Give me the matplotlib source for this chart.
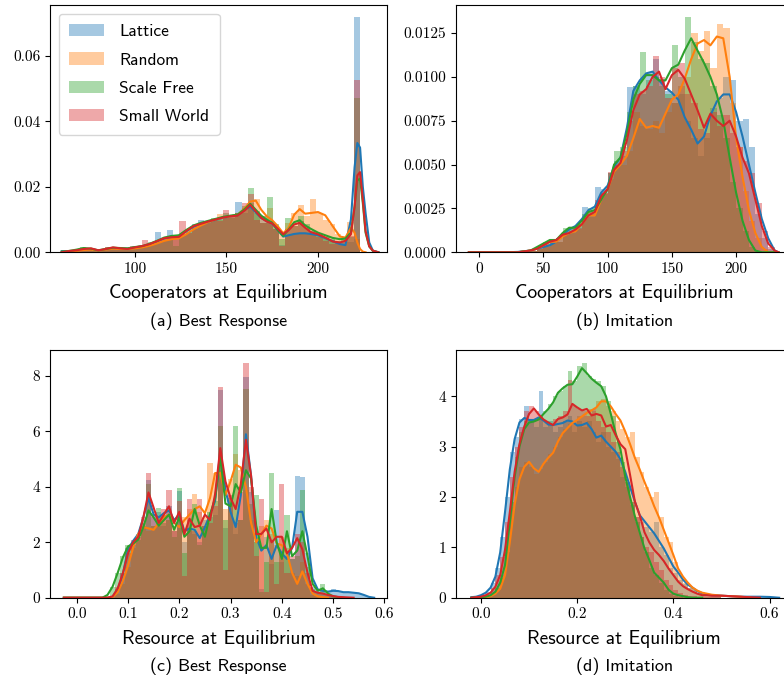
import numpy as np
import matplotlib.pyplot as plt

plt.rcParams['axes.unicode_minus'] = False

nan = np.nan
names = ['Lattice', 'Random', 'Scale Free', 'Small World']
colors = ['#1f77b4', '#ff7f0e', '#2ca02c', '#d62728']

# ---- (a) cooperators, best response ----
a_bin_lo, a_bin_w = 59.7, 3.4
a_lat_hist = [0.0006, 0.0003, 0.0005, 0.0010, 0.0008, 0.0004, 0.0008, 0.0013, 0.0012, 0.0010,
              0.0012, 0.0016, 0.0018, 0.0022, 0.0028, 0.0063, 0.0035, 0.0068, 0.0048, 0.0055,
              0.0062, 0.0085, 0.0100, 0.0088, 0.0098, 0.0105, 0.0112, 0.0110, 0.0155, 0.0120,
              0.0140, 0.0125, 0.0110, 0.0095, 0.0070, 0.0022, 0.0050, 0.0055, 0.0060, 0.0058,
              0.0060, 0.0052, 0.0045, 0.0038, 0.0030, 0.0025, 0.0030, 0.0720, 0.0, 0.0]
a_rnd_hist = [0.0, 0.0002, 0.0004, 0.0008, 0.0006, 0.0005, 0.0008, 0.0010, 0.0012, 0.0010,
              0.0012, 0.0014, 0.0016, 0.0020, 0.0025, 0.0030, 0.0035, 0.0040, 0.0045, 0.0050,
              0.0060, 0.0070, 0.0085, 0.0095, 0.0100, 0.0118, 0.0110, 0.0115, 0.0120, 0.0135,
              0.0150, 0.0163, 0.0110, 0.0135, 0.0080, 0.0055, 0.0090, 0.0120, 0.0145, 0.0110,
              0.0163, 0.0120, 0.0100, 0.0085, 0.0055, 0.0040, 0.0094, 0.0040, 0.0, 0.0]
a_sf_hist = [0.0003, 0.0003, 0.0008, 0.0015, 0.0010, 0.0004, 0.0008, 0.0015, 0.0012, 0.0015,
             0.0012, 0.0016, 0.0018, 0.0022, 0.0030, 0.0028, 0.0040, 0.0045, 0.0020, 0.0055,
             0.0070, 0.0075, 0.0090, 0.0095, 0.0105, 0.0098, 0.0120, 0.0105, 0.0120, 0.0140,
             0.0195, 0.0120, 0.0090, 0.0168, 0.0085, 0.0040, 0.0105, 0.0080, 0.0110, 0.0085,
             0.0065, 0.0055, 0.0048, 0.0040, 0.0035, 0.0045, 0.0046, 0.0473, 0.0, 0.0]
a_sw_hist = [0.0002, 0.0004, 0.0006, 0.0012, 0.0008, 0.0005, 0.0010, 0.0017, 0.0014, 0.0012,
             0.0014, 0.0018, 0.0020, 0.0037, 0.0025, 0.0030, 0.0045, 0.0050, 0.0045, 0.0095,
             0.0060, 0.0080, 0.0085, 0.0090, 0.0100, 0.0095, 0.0130, 0.0110, 0.0120, 0.0150,
             0.0178, 0.0100, 0.0090, 0.0095, 0.0070, 0.0020, 0.0070, 0.0080, 0.0095, 0.0075,
             0.0060, 0.0048, 0.0035, 0.0025, 0.0030, 0.0035, 0.0050, 0.0528, 0.0, 0.0]
a_kde_x = [60, 64, 68, 72, 76, 80, 84, 88, 92, 96,
           100, 104, 108, 112, 116, 120, 124, 128, 132, 136,
           140, 144, 148, 152, 156, 160, 163, 166, 169, 172,
           175, 178, 181, 184, 187, 190, 193, 196, 200, 204,
           208, 212, 215, 218, 220, 221.5, 223, 224.5, 226, 228,
           230, 233]
a_lat_kde = [0.0003, 0.0003, 0.0005, 0.0009, 0.0010, 0.0005, 0.0009, 0.0013, 0.0011, 0.0011,
             0.0015, 0.0018, 0.0024, 0.0033, 0.0042, 0.0048, 0.0050, 0.0064, 0.0078, 0.0086,
             0.0092, 0.0099, 0.0105, 0.0110, 0.0113, 0.0130, 0.0140, 0.0122, 0.0105, 0.0095,
             0.0088, 0.0068, 0.0048, 0.0052, 0.0056, 0.0058, 0.0058, 0.0056, 0.0052, 0.0043,
             0.0034, 0.0025, 0.0022, 0.0100, 0.0260, 0.0334, 0.0320, 0.0200, 0.0120, 0.0030,
             0.0005, 0.0]
a_rnd_kde = [0.0, 0.0002, 0.0004, 0.0007, 0.0008, 0.0005, 0.0008, 0.0011, 0.0010, 0.0010,
             0.0012, 0.0015, 0.0020, 0.0027, 0.0035, 0.0040, 0.0043, 0.0055, 0.0070, 0.0082,
             0.0092, 0.0100, 0.0106, 0.0110, 0.0114, 0.0135, 0.0155, 0.0158, 0.0130, 0.0110,
             0.0098, 0.0080, 0.0058, 0.0075, 0.0115, 0.0132, 0.0118, 0.0120, 0.0123, 0.0113,
             0.0080, 0.0048, 0.0045, 0.0075, 0.0060, 0.0030, 0.0010, 0.0002, 0.0, nan,
             nan, nan]
a_sf_kde = [0.0002, 0.0004, 0.0008, 0.0013, 0.0011, 0.0006, 0.0010, 0.0014, 0.0013, 0.0012,
            0.0016, 0.0019, 0.0026, 0.0035, 0.0045, 0.0050, 0.0052, 0.0068, 0.0082, 0.0090,
            0.0096, 0.0102, 0.0108, 0.0112, 0.0115, 0.0132, 0.0148, 0.0130, 0.0112, 0.0100,
            0.0090, 0.0068, 0.0050, 0.0070, 0.0092, 0.0098, 0.0082, 0.0072, 0.0060, 0.0052,
            0.0044, 0.0040, 0.0042, 0.0060, 0.0140, 0.0220, 0.0225, 0.0150, 0.0060, 0.0018,
            0.0004, 0.0]
a_sw_kde = [0.0, 0.0004, 0.0006, 0.0010, 0.0012, 0.0006, 0.0010, 0.0015, 0.0012, 0.0010,
            0.0015, 0.0019, 0.0025, 0.0034, 0.0043, 0.0046, 0.0047, 0.0065, 0.0080, 0.0087,
            0.0094, 0.0100, 0.0106, 0.0110, 0.0112, 0.0128, 0.0145, 0.0125, 0.0105, 0.0094,
            0.0088, 0.0072, 0.0055, 0.0068, 0.0085, 0.0090, 0.0075, 0.0062, 0.0055, 0.0045,
            0.0033, 0.0030, 0.0035, 0.0055, 0.0140, 0.0235, 0.0245, 0.0160, 0.0065, 0.0018,
            0.0005, 0.0]

# ---- (b) cooperators, imitation ----
b_bin_lo, b_bin_w = 30, 5
b_lat_hist = [0.0, 0.0, 0.0001, 0.0002, 0.0003, 0.0006, 0.0006, 0.0012, 0.0014, 0.0015,
              0.0026, 0.0022, 0.0037, 0.0036, 0.0045, 0.0052, 0.0055, 0.0094, 0.0095, 0.0090,
              0.0102, 0.0110, 0.0098, 0.0092, 0.0085, 0.0090, 0.0075, 0.0065, 0.0055, 0.0065,
              0.0082, 0.0088, 0.0100, 0.0098, 0.0075, 0.0076, 0.0060, 0.0022, 0.0008, 0.0002]
b_rnd_hist = [0.0, 0.0, 0.0001, 0.0002, 0.0004, 0.0005, 0.0006, 0.0010, 0.0011, 0.0013,
              0.0020, 0.0020, 0.0028, 0.0034, 0.0042, 0.0050, 0.0050, 0.0058, 0.0080, 0.0072,
              0.0070, 0.0075, 0.0068, 0.0080, 0.0085, 0.0095, 0.0100, 0.0125, 0.0115, 0.0126,
              0.0105, 0.0130, 0.0128, 0.0085, 0.0060, 0.0035, 0.0018, 0.0008, 0.0002, 0.0]
b_sf_hist = [0.0, 0.0, 0.0001, 0.0003, 0.0006, 0.0007, 0.0008, 0.0014, 0.0014, 0.0016,
             0.0022, 0.0025, 0.0028, 0.0033, 0.0045, 0.0058, 0.0060, 0.0080, 0.0095, 0.0114,
             0.0098, 0.0100, 0.0095, 0.0090, 0.0118, 0.0100, 0.0134, 0.0120, 0.0110, 0.0108,
             0.0095, 0.0078, 0.0065, 0.0040, 0.0025, 0.0012, 0.0003, 0.0001, 0.0, 0.0]
b_sw_hist = [0.0, 0.0, 0.0001, 0.0003, 0.0005, 0.0006, 0.0008, 0.0011, 0.0012, 0.0014,
             0.0020, 0.0023, 0.0030, 0.0034, 0.0046, 0.0050, 0.0058, 0.0075, 0.0090, 0.0092,
             0.0095, 0.0112, 0.0100, 0.0088, 0.0105, 0.0108, 0.0090, 0.0085, 0.0070, 0.0068,
             0.0080, 0.0072, 0.0078, 0.0068, 0.0060, 0.0052, 0.0045, 0.0028, 0.0012, 0.0003]
b_kde_x = [-8, 0, 10, 20, 30, 40, 45, 50, 55, 60,
           65, 70, 75, 80, 85, 90, 95, 100, 105, 110,
           115, 120, 125, 130, 135, 140, 145, 150, 155, 160,
           165, 170, 175, 180, 185, 190, 195, 200, 205, 210,
           215, 220, 225, 230, 233]
b_lat_kde = [0.0, 0.0, 0.0, 0.0, 0.00002, 0.0001, 0.0002, 0.0003, 0.0004, 0.0006,
             0.0010, 0.0013, 0.0015, 0.0019, 0.0024, 0.0026, 0.0034, 0.0038, 0.0049, 0.0054,
             0.0071, 0.0092, 0.0098, 0.0102, 0.0103, 0.0098, 0.0094, 0.0091, 0.0087, 0.0077,
             0.0070, 0.0062, 0.0066, 0.0078, 0.0086, 0.0090, 0.0090, 0.0080, 0.0066, 0.0050,
             0.0034, 0.0019, 0.0008, 0.0001, 0.0]
b_rnd_kde = [0.0, 0.0, 0.0, 0.0, 0.0, 0.0001, 0.0002, 0.0004, 0.0006, 0.0006,
             0.0009, 0.0011, 0.0012, 0.0016, 0.0021, 0.0021, 0.0030, 0.0036, 0.0046, 0.0050,
             0.0055, 0.0065, 0.0076, 0.0071, 0.0072, 0.0071, 0.0079, 0.0087, 0.0090, 0.0099,
             0.0110, 0.0119, 0.0121, 0.0118, 0.0123, 0.0122, 0.0100, 0.0065, 0.0043, 0.0024,
             0.0011, 0.0003, 0.0, 0.0, 0.0]
b_sf_kde = [0.0, 0.0, 0.0, 0.0, 0.0, 0.0001, 0.0003, 0.0005, 0.0007, 0.0007,
            0.0011, 0.0014, 0.0014, 0.0018, 0.0023, 0.0024, 0.0030, 0.0036, 0.0050, 0.0054,
            0.0068, 0.0087, 0.0096, 0.0101, 0.0101, 0.0098, 0.0098, 0.0105, 0.0107, 0.0115,
            0.0122, 0.0115, 0.0108, 0.0100, 0.0090, 0.0075, 0.0054, 0.0034, 0.0018, 0.0007,
            0.0001, 0.0, 0.0, 0.0, 0.0]
b_sw_kde = [0.0, 0.0, 0.0, 0.0, 0.0, 0.0001, 0.0002, 0.0004, 0.0006, 0.0007,
            0.0010, 0.0011, 0.0013, 0.0016, 0.0021, 0.0023, 0.0032, 0.0036, 0.0047, 0.0051,
            0.0064, 0.0081, 0.0090, 0.0093, 0.0100, 0.0103, 0.0093, 0.0101, 0.0104, 0.0099,
            0.0090, 0.0081, 0.0071, 0.0079, 0.0075, 0.0072, 0.0075, 0.0066, 0.0054, 0.0045,
            0.0030, 0.0015, 0.0005, 0.0001, 0.0]

# ---- (c) resource, best response ----
c_bin_lo, c_bin_w = 0.065, 0.01
c_lat_hist = [0.05, 0.3, 0.9, 1.8, 2.0, 2.2, 2.6, 4.25, 2.9, 3.1,
              2.6, 3.3, 2.4, 3.85, 2.0, 2.8, 2.3, 2.0, 2.8, 2.9,
              3.0, 7.5, 2.5, 3.4, 2.3, 2.8, 7.95, 3.8, 2.0, 0.3,
              2.2, 1.2, 3.15, 1.3, 1.5, 1.4, 4.4, 4.35, 1.6, 0.4,
              0.3, 0.25, 0.2, 0.3, 0.25, 0.2, 0.2, 0.2, 0.18, 0.1,
              0.03]
c_rnd_hist = [0.0, 0.15, 0.5, 1.1, 1.8, 2.3, 2.5, 2.4, 2.6, 2.9,
              3.0, 2.8, 2.6, 2.5, 2.9, 3.2, 3.75, 3.1, 2.9, 4.85,
              4.5, 4.6, 3.2, 4.3, 5.2, 4.6, 3.9, 2.8, 2.0, 2.6,
              2.8, 2.3, 1.9, 2.2, 1.8, 0.9, 0.8, 1.3, 0.5, 0.1,
              0.05, 0.02, 0.0, 0.0, 0.0, 0.0, 0.0, 0.0, 0.0, 0.0,
              0.0]
c_sf_hist = [0.4, 0.9, 1.5, 1.9, 1.9, 2.1, 2.7, 4.1, 2.6, 3.25,
             2.7, 2.8, 2.2, 3.95, 1.6, 2.5, 3.4, 1.9, 2.6, 3.1,
             3.5, 6.2, 2.8, 3.6, 6.2, 2.8, 7.55, 3.4, 3.7, 0.2,
             1.3, 4.5, 1.3, 1.6, 3.0, 1.4, 1.5, 3.9, 1.1, 0.3,
             0.2, 0.5, 0.1, 0.05, 0.0, 0.0, 0.0, 0.0, 0.0, 0.0,
             0.0]
c_sw_hist = [0.05, 0.4, 0.9, 1.6, 2.1, 2.2, 2.9, 4.5, 3.0, 2.6,
             3.2, 3.9, 2.4, 3.5, 0.8, 3.55, 2.4, 3.55, 2.6, 2.7,
             3.3, 7.6, 1.0, 3.7, 2.7, 3.8, 8.46, 4.0, 1.5, 3.55,
             0.2, 2.1, 0.5, 4.1, 0.9, 1.5, 2.3, 2.0, 0.9, 0.2,
             0.2, 0.15, 0.1, 0.05, 0.0, 0.0, 0.0, 0.0, 0.0, 0.0,
             0.0]
c_kde_x = [-0.025, 0.05, 0.06, 0.07, 0.08, 0.09, 0.10, 0.11, 0.12, 0.13,
           0.14, 0.15, 0.16, 0.17, 0.18, 0.19, 0.20, 0.21, 0.22, 0.23,
           0.24, 0.25, 0.26, 0.27, 0.28, 0.29, 0.30, 0.31, 0.32, 0.33,
           0.34, 0.35, 0.36, 0.37, 0.38, 0.39, 0.40, 0.41, 0.42, 0.43,
           0.44, 0.45, 0.46, 0.47, 0.48, 0.49, 0.50, 0.51, 0.52, 0.53,
           0.54, 0.55, 0.56, 0.57, 0.58]
c_lat_kde = [0.0, 0.0, 0.0, 0.03, 0.3, 0.85, 1.75, 2.05, 2.3, 2.9,
             3.6, 3.0, 2.9, 3.05, 3.15, 2.8, 3.0, 2.4, 2.5, 2.45,
             2.15, 2.55, 3.0, 3.5, 5.3, 3.9, 3.1, 2.55, 3.7, 5.9,
             4.4, 2.2, 1.7, 1.9, 1.4, 1.9, 1.6, 1.4, 1.8, 3.1,
             3.1, 2.2, 0.7, 0.3, 0.25, 0.22, 0.25, 0.24, 0.2, 0.2,
             0.18, 0.16, 0.1, 0.03, 0.0]
c_rnd_kde = [0.0, 0.0, 0.0, 0.02, 0.2, 0.6, 1.15, 1.8, 2.3, 2.55,
             2.5, 2.45, 2.7, 2.9, 3.0, 2.7, 2.55, 2.8, 3.0, 3.2,
             3.3, 3.05, 3.6, 4.5, 4.5, 3.7, 4.2, 4.8, 4.7, 4.0,
             2.7, 2.0, 2.3, 2.6, 2.5, 1.95, 1.9, 1.6, 0.9, 0.5,
             0.95, 0.5, 0.15, 0.05, 0.02, 0.0, nan, nan, nan, nan,
             nan, nan, nan, nan, nan]
c_sf_kde = [0.0, 0.0, 0.1, 0.4, 0.9, 1.45, 1.85, 1.95, 2.1, 2.55,
            3.15, 2.9, 2.6, 2.8, 3.0, 2.45, 2.9, 2.2, 2.4, 3.2,
            2.6, 2.2, 3.0, 3.6, 5.1, 3.4, 3.3, 4.1, 3.8, 4.6,
            4.3, 2.6, 1.8, 1.8, 3.2, 2.0, 1.4, 2.4, 1.5, 1.7,
            2.4, 1.5, 0.5, 0.25, 0.34, 0.15, 0.05, 0.02, 0.0, nan,
            nan, nan, nan, nan, nan]
c_sw_kde = [0.0, 0.0, 0.0, 0.05, 0.34, 0.88, 1.6, 2.0, 2.2, 2.9,
            3.8, 3.25, 2.7, 3.0, 3.3, 2.7, 3.1, 2.3, 2.85, 2.55,
            2.6, 3.0, 2.8, 3.75, 5.4, 4.2, 3.6, 3.2, 4.1, 5.7,
            4.4, 2.3, 2.3, 2.5, 2.0, 2.2, 2.2, 1.6, 1.8, 2.15,
            1.75, 0.9, 0.25, 0.18, 0.15, 0.1, 0.06, 0.03, 0.02, 0.01,
            0.0, nan, nan, nan, nan]

# ---- (d) resource, imitation ----
d_bin_lo, d_bin_w = 0.0, 0.01
d_lat_hist = [0.05, 0.12, 0.3, 0.6, 1.2, 2.0, 2.9, 3.2, 3.55, 3.8,
              3.5, 3.4, 4.1, 3.4, 3.5, 3.3, 3.4, 3.5, 3.6, 3.3,
              3.5, 3.4, 3.5, 3.3, 3.1, 3.3, 3.0, 2.9, 2.75, 2.4,
              2.2, 1.85, 1.6, 1.5, 1.4, 1.3, 1.5, 1.0, 0.85, 0.6,
              0.5, 0.35, 0.28, 0.2, 0.15, 0.1, 0.07, 0.05, 0.04, 0.03]
d_rnd_hist = [0.0, 0.02, 0.08, 0.2, 0.45, 1.0, 1.8, 2.2, 2.6, 2.7,
              2.6, 2.45, 2.55, 2.7, 2.85, 3.0, 3.2, 3.35, 3.45, 3.5,
              3.6, 3.6, 3.75, 3.7, 3.9, 3.95, 3.8, 3.7, 3.5, 3.35,
              3.2, 3.3, 2.8, 2.5, 2.2, 2.0, 2.1, 1.6, 1.2, 1.1,
              0.7, 0.45, 0.3, 0.2, 0.15, 0.1, 0.08, 0.06, 0.04, 0.03]
d_sf_hist = [0.0, 0.02, 0.08, 0.2, 0.4, 0.9, 1.9, 2.8, 3.3, 3.5,
             3.5, 3.55, 3.6, 3.7, 3.85, 4.0, 4.1, 4.2, 4.5, 4.3,
             4.6, 4.66, 4.4, 4.35, 4.3, 4.2, 3.9, 3.6, 3.1, 2.7,
             2.3, 1.9, 1.5, 1.2, 0.9, 0.6, 0.45, 0.3, 0.15, 0.08,
             0.04, 0.02, 0.0, 0.0, 0.0, 0.0, 0.0, 0.0, 0.0, 0.0]
d_sw_hist = [0.01, 0.06, 0.2, 0.45, 0.8, 1.5, 2.4, 3.0, 3.4, 3.7,
             3.8, 3.7, 3.55, 3.5, 3.45, 3.55, 3.6, 3.7, 4.33, 3.8,
             3.75, 3.7, 3.6, 3.75, 3.5, 3.4, 3.3, 3.1, 2.9, 2.6,
             2.3, 1.9, 1.6, 1.2, 1.0, 0.9, 0.7, 0.55, 0.35, 0.25,
             0.15, 0.1, 0.06, 0.04, 0.03, 0.02, 0.02, 0.01, 0.01, 0.01]
d_kde_x = [-0.02, -0.01, 0.00, 0.01, 0.02, 0.03, 0.04, 0.05, 0.06, 0.07,
           0.08, 0.09, 0.10, 0.11, 0.12, 0.13, 0.14, 0.15, 0.16, 0.17,
           0.18, 0.19, 0.20, 0.21, 0.22, 0.23, 0.24, 0.25, 0.26, 0.27,
           0.28, 0.29, 0.30, 0.31, 0.32, 0.33, 0.34, 0.35, 0.36, 0.37,
           0.38, 0.39, 0.40, 0.41, 0.42, 0.43, 0.44, 0.45, 0.46, 0.47,
           0.48, 0.50, 0.52, 0.54, 0.56, 0.58, 0.60, 0.62]
d_lat_kde = [0.01, 0.02, 0.05, 0.1, 0.2, 0.42, 0.9, 1.7, 2.55, 3.15,
             3.48, 3.57, 3.53, 3.53, 3.58, 3.52, 3.44, 3.43, 3.45, 3.47,
             3.52, 3.5, 3.42, 3.43, 3.47, 3.35, 3.18, 3.22, 3.1, 3.0,
             2.9, 2.75, 2.5, 2.2, 1.91, 1.64, 1.52, 1.4, 1.28, 1.13,
             0.98, 0.8, 0.62, 0.5, 0.36, 0.26, 0.2, 0.13, 0.09, 0.06,
             0.05, 0.04, 0.03, 0.02, 0.02, 0.02, 0.015, 0.0]
d_rnd_kde = [nan, 0.0, 0.005, 0.01, 0.03, 0.08, 0.18, 0.45, 1.1, 1.85,
             2.35, 2.6, 2.7, 2.57, 2.5, 2.66, 2.78, 2.88, 3.1, 3.27,
             3.37, 3.47, 3.53, 3.6, 3.67, 3.72, 3.78, 3.9, 3.9, 3.8,
             3.65, 3.52, 3.3, 3.05, 2.78, 2.55, 2.3, 2.07, 1.82, 1.6,
             1.35, 1.1, 0.85, 0.58, 0.42, 0.3, 0.2, 0.14, 0.1, 0.08,
             0.06, 0.04, 0.03, 0.02, 0.0, nan, nan, nan]
d_sf_kde = [0.0, 0.0, 0.01, 0.02, 0.05, 0.12, 0.3, 0.65, 1.5, 2.4,
            3.0, 3.35, 3.48, 3.5, 3.54, 3.65, 3.75, 3.88, 4.07, 4.16,
            4.23, 4.24, 4.39, 4.56, 4.46, 4.35, 4.27, 4.2, 4.0, 3.65,
            3.27, 2.95, 2.4, 2.0, 1.62, 1.3, 0.98, 0.75, 0.5, 0.4,
            0.3, 0.16, 0.08, 0.05, 0.03, 0.01, 0.0, 0.0, 0.0, nan,
            nan, nan, nan, nan, nan, nan, nan, nan]
d_sw_kde = [0.0, 0.01, 0.02, 0.05, 0.1, 0.22, 0.45, 0.95, 1.7, 2.5,
            3.05, 3.4, 3.65, 3.76, 3.64, 3.54, 3.48, 3.43, 3.55, 3.58,
            3.64, 3.85, 3.78, 3.72, 3.75, 3.62, 3.65, 3.62, 3.4, 3.43,
            3.23, 3.05, 2.95, 2.44, 1.91, 1.64, 1.3, 1.1, 0.95, 0.85,
            0.73, 0.58, 0.45, 0.32, 0.23, 0.17, 0.12, 0.08, 0.05, 0.05,
            0.04, 0.04, 0.03, 0.02, 0.01, 0.0, nan, nan]

# tick labels
a_xticks, a_xlabels = [100, 150, 200], ['100', '150', '200']
a_yticks, a_ylabels = [0, 0.02, 0.04, 0.06], ['0.00', '0.02', '0.04', '0.06']
b_xticks, b_xlabels = [0, 50, 100, 150, 200], ['0', '50', '100', '150', '200']
b_yticks = [0, 0.0025, 0.005, 0.0075, 0.01, 0.0125]
b_ylabels = ['0.0000', '0.0025', '0.0050', '0.0075', '0.0100', '0.0125']
c_xticks = [0.0, 0.1, 0.2, 0.3, 0.4, 0.5, 0.6]
c_xlabels = ['0.0', '0.1', '0.2', '0.3', '0.4', '0.5', '0.6']
c_yticks, c_ylabels = [0, 2, 4, 6, 8], ['0', '2', '4', '6', '8']
d_xticks, d_xlabels = [0.0, 0.2, 0.4, 0.6], ['0.0', '0.2', '0.4', '0.6']
d_yticks, d_ylabels = [0, 1, 2, 3, 4], ['0', '1', '2', '3', '4']


def draw(ax, bin_lo, bin_w, hists, kde_x, kdes):
    for h, k, c, n in zip(hists, kdes, colors, names):
        left = bin_lo + bin_w * np.arange(len(h))
        ax.bar(left, h, width=bin_w, align='edge', color=c, alpha=0.4,
               linewidth=0, label=n)
        ax.plot(kde_x, k, color=c, lw=1.5)


def style(ax, xlim, ylim, xt, xl, yt, yl, xlabel, caption):
    ax.set_xlim(xlim)
    ax.set_ylim(ylim)
    ax.set_xticks(xt)
    ax.set_xticklabels(xl, fontfamily='cmr10', fontsize=11)
    ax.set_yticks(yt)
    ax.set_yticklabels(yl, fontfamily='cmr10', fontsize=11)
    ax.set_xlabel(xlabel, fontfamily='cmss10', fontsize=14, va='center')
    ax.xaxis.set_label_coords(0.5, -0.165)
    ax.text(0.5, -0.278, caption, transform=ax.transAxes, ha='center',
            va='center', fontfamily='cmss10', fontsize=13)


fig = plt.figure(figsize=(7.84, 6.8), dpi=100)
ax_a = fig.add_axes([0.0638, 0.629, 0.4298, 0.3637])
ax_b = fig.add_axes([0.5812, 0.629, 0.4298, 0.3637])
ax_c = fig.add_axes([0.0638, 0.121, 0.4298, 0.3643])
ax_d = fig.add_axes([0.5812, 0.121, 0.4298, 0.3643])

draw(ax_a, a_bin_lo, a_bin_w, [a_lat_hist, a_rnd_hist, a_sf_hist, a_sw_hist],
     a_kde_x, [a_lat_kde, a_rnd_kde, a_sf_kde, a_sw_kde])
draw(ax_b, b_bin_lo, b_bin_w, [b_lat_hist, b_rnd_hist, b_sf_hist, b_sw_hist],
     b_kde_x, [b_lat_kde, b_rnd_kde, b_sf_kde, b_sw_kde])
draw(ax_c, c_bin_lo, c_bin_w, [c_lat_hist, c_rnd_hist, c_sf_hist, c_sw_hist],
     c_kde_x, [c_lat_kde, c_rnd_kde, c_sf_kde, c_sw_kde])
draw(ax_d, d_bin_lo, d_bin_w, [d_lat_hist, d_rnd_hist, d_sf_hist, d_sw_hist],
     d_kde_x, [d_lat_kde, d_rnd_kde, d_sf_kde, d_sw_kde])

style(ax_a, (53.6, 237.7), (0, 0.0756), a_xticks, a_xlabels, a_yticks, a_ylabels,
      'Cooperators at Equilibrium', '(a) Best Response')
style(ax_b, (-18.3, 244), (0, 0.0141), b_xticks, b_xlabels, b_yticks, b_ylabels,
      'Cooperators at Equilibrium', '(b) Imitation')
style(ax_c, (-0.052, 0.605), (0, 8.94), c_xticks, c_xlabels, c_yticks, c_ylabels,
      'Resource at Equilibrium', '(c) Best Response')
style(ax_d, (-0.0526, 0.648), (0, 4.92), d_xticks, d_xlabels, d_yticks, d_ylabels,
      'Resource at Equilibrium', '(d) Imitation')

ax_a.legend(loc='upper left', prop={'family': 'cmss10', 'size': 12.5},
            labelspacing=0.76, borderpad=0.6, handletextpad=0.9)

fig.savefig('out.png', dpi=100)
